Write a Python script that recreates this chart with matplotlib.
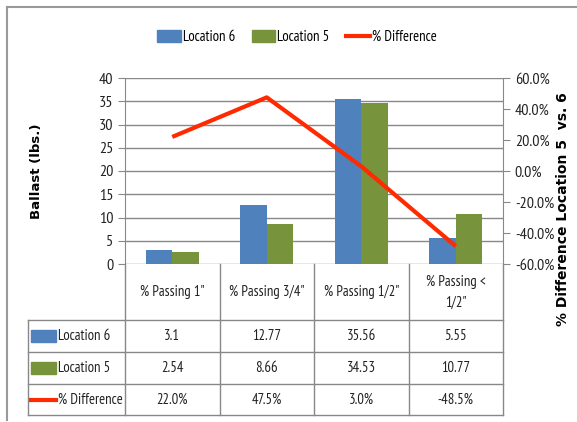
import numpy as np
import matplotlib.pyplot as plt
from matplotlib.transforms import blended_transform_factory
from matplotlib.lines import Line2D
from matplotlib.patches import Rectangle, Patch

categories = ['% Passing 1"', '% Passing 3/4"', '% Passing 1/2"', '% Passing <\n1/2"']
loc6 = [3.1, 12.77, 35.56, 5.55]
loc5 = [2.54, 8.66, 34.53, 10.77]
pct_diff = [22.0, 47.5, 3.0, -48.5]

loc6_txt = ['3.1', '12.77', '35.56', '5.55']
loc5_txt = ['2.54', '8.66', '34.53', '10.77']
diff_txt = ['22.0%', '47.5%', '3.0%', '-48.5%']

blue = '#4F81BD'
green = '#77933C'
red = '#FF2A00'
grid_c = '#888888'
txt_c = '#222222'
fs = 10.5

plt.rcParams['font.family'] = ['PT Sans Narrow', 'DejaVu Sans']

W, H = 577, 422
fig = plt.figure(figsize=(W / 100, H / 100), dpi=100)

def fx(px):
    return px / W

def fy(py):
    return 1 - py / H

# chart border
fig.add_artist(Line2D([fx(7), fx(7)], [fy(7), fy(420)], color='#999999', lw=1.5))
fig.add_artist(Line2D([fx(7), 1], [fy(7), fy(7)], color='#999999', lw=1.5))

top, bottom, left, right = 78, 264, 125, 503
ax = fig.add_axes([fx(left), fy(bottom), fx(right - left), (bottom - top) / H])

x = np.arange(len(categories))
w = 0.28
ax.bar(x - w / 2, loc6, w, color=blue, zorder=2)
ax.bar(x + w / 2, loc5, w, color=green, zorder=2)
ax.set_xlim(-0.5, len(categories) - 0.5)
ax.set_ylim(0, 40)
ax.set_yticks(range(0, 41, 5))
ax.yaxis.grid(True, color=grid_c, lw=1)
ax.set_axisbelow(True)
ax.set_xticks([])
for s in ['top', 'bottom', 'right']:
    ax.spines[s].set_visible(False)
ax.spines['left'].set_color(grid_c)
ax.tick_params(axis='y', colors=grid_c, labelcolor=txt_c, labelsize=fs + 1, length=5)
ax.set_ylabel('Ballast (lbs.)', family='DejaVu Sans', fontweight='bold', fontsize=9.5,
              labelpad=40)

ax2 = ax.twinx()
ax2.plot(x, pct_diff, color=red, lw=3, zorder=5, solid_capstyle='butt')
ax2.set_ylim(-60, 60)
ax2.set_yticks(range(-60, 61, 20))
ax2.set_yticklabels([f'{v:.1f}%' for v in range(-60, 61, 20)])
for s in ['top', 'bottom', 'left']:
    ax2.spines[s].set_visible(False)
ax2.spines['right'].set_color(grid_c)
ax2.tick_params(axis='y', colors=grid_c, labelcolor=txt_c, labelsize=fs + 1, length=5)
ax.set_zorder(1)
ax2.set_zorder(2)
ax2.patch.set_visible(False)

fig.text(fx(563), fy(209), '% Difference Location 5  vs. 6', rotation=90,
         family='DejaVu Sans', fontweight='bold', fontsize=10, ha='center', va='center')

# data table
tr = blended_transform_factory(ax.transData, fig.transFigure)
rows_y = [264, 320, 352, 384, 415]
tab_left = fx(28)
for b in np.arange(len(categories) + 1) - 0.5:
    fig.add_artist(Line2D([b, b], [fy(264), fy(415)], transform=tr, color=grid_c, lw=1))
fig.add_artist(Line2D([tab_left, tab_left], [fy(320), fy(415)], color=grid_c, lw=1))
for yy in rows_y[1:]:
    fig.add_artist(Line2D([tab_left, fx(right)], [fy(yy), fy(yy)], color=grid_c, lw=1))

for i, c in enumerate(categories):
    fig.text(i, fy(292), c, transform=tr, ha='center', va='center', fontsize=fs,
             linespacing=1.6, color=txt_c)
row_vals = [loc6_txt, loc5_txt, diff_txt]
row_names = ['Location 6', 'Location 5', '% Difference']
for r, vals in enumerate(row_vals):
    yc = (rows_y[r + 1] + rows_y[r + 2]) / 2
    for i, v in enumerate(vals):
        fig.text(i, fy(yc), v, transform=tr, ha='center', va='center', fontsize=fs,
                 color=txt_c)
    fig.text(fx(58), fy(yc), row_names[r], ha='left', va='center', fontsize=fs,
             color=txt_c)
    if r < 2:
        fig.add_artist(Rectangle((fx(31), fy(yc + 6)), fx(25), 12 / H,
                                 color=[blue, green][r]))
    else:
        fig.add_artist(Line2D([fx(31), fx(56)], [fy(yc), fy(yc)], color=red, lw=3))

# legend
handles = [Patch(color=blue, label='Location 6'), Patch(color=green, label='Location 5'),
           Line2D([], [], color=red, lw=3, label='% Difference')]
fig.legend(handles=handles, loc='center', bbox_to_anchor=(fx(297), fy(37)), ncol=3,
           frameon=False, fontsize=fs, handlelength=1.6, handleheight=0.9,
           handletextpad=0.15, columnspacing=1.15)

fig.savefig('out.png', dpi=100)
